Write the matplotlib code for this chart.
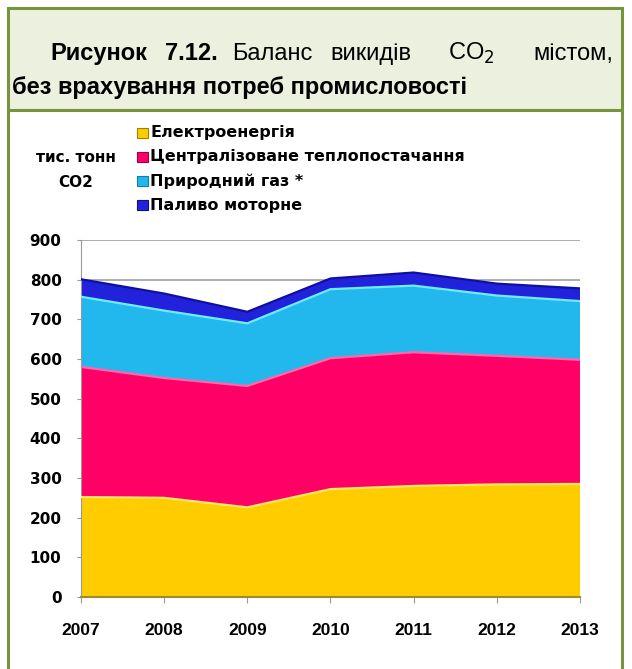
import matplotlib.pyplot as plt
from matplotlib.patches import Rectangle
import numpy as np

plt.rcParams['font.family'] = ['Liberation Sans', 'DejaVu Sans']

years = [2007, 2008, 2009, 2010, 2011, 2012, 2013]
# stacked series, thousand tonnes CO2
electricity = [252, 250, 226, 272, 280, 284, 285]
heating = [328, 302, 306, 330, 337, 324, 313]
natural_gas = [177, 170, 158, 174, 168, 152, 148]
motor_fuel = [44, 43, 29, 27, 33, 30, 32]

labels = ['Електроенергія', 'Централізоване теплопостачання',
          'Природний газ *', 'Паливо моторне']
colors = ['#FFCC00', '#FF0066', '#22B8EE', '#2222DD']
edges = ['#FFE866', '#FF66AA', '#70ECFF', '#1010A0']
sq_edges = ['#A08000', '#A00040', '#1080A0', '#101080']
yticks = [0, 100, 200, 300, 400, 500, 600, 700, 800, 900]

W, H = 632, 669
fig = plt.figure(figsize=(W / 100, H / 100), dpi=100)

def fx(x):
    return x / W

def fy(y):
    return 1 - y / H

green = '#77933C'
# header box and body frame
fig.patches.append(Rectangle((fx(8), fy(110)), fx(614), 102 / H, transform=fig.transFigure,
                             facecolor='#EBF1DE', edgecolor=green, lw=2.2, zorder=-5))
fig.patches.append(Rectangle((fx(8), fy(680)), fx(614), 570 / H, transform=fig.transFigure,
                             facecolor='white', edgecolor=green, lw=2.2, zorder=-5))

fs = 17
b1, b2 = 60, 94
fig.text(fx(50), fy(b1), 'Рисунок', fontsize=fs, fontweight='bold', va='baseline')
fig.text(fx(218), fy(b1), '7.12.', fontsize=fs, fontweight='bold', va='baseline', ha='right')
fig.text(fx(232), fy(b1), 'Баланс', fontsize=fs, va='baseline')
fig.text(fx(330), fy(b1), 'викидів', fontsize=fs, va='baseline')
fig.text(fx(448), fy(b1), 'CO$_2$', fontsize=fs, va='baseline')
fig.text(fx(613), fy(b1), 'містом,', fontsize=fs, va='baseline', ha='right')
fig.text(fx(12), fy(b2), 'без врахування потреб промисловості', fontsize=fs,
         fontweight='bold', va='baseline')

ax = fig.add_axes([fx(81), fy(597), fx(499), 357 / H])
ax.set_zorder(5)
ax.patch.set_alpha(0)
stack = np.vstack([electricity, heating, natural_gas, motor_fuel])
tops = np.cumsum(stack, axis=0)
ax.stackplot(years, stack, colors=colors, zorder=2, lw=0)
for i in range(4):
    ax.plot(years, tops[i], color=edges[i], lw=1.6, zorder=3)
ax.set_xlim(2007, 2013)
ax.set_ylim(0, 900)
ax.set_yticks(yticks)
ax.set_xticks(years)
ax.set_xticklabels([str(y) for y in years])
ax.grid(axis='y', color='#A0A0A0', lw=1.2, zorder=1)
ax.set_axisbelow(True)
for s in ['top', 'right']:
    ax.spines[s].set_visible(False)
ax.spines['left'].set_color('#999999')
ax.spines['bottom'].set_color('#A08A30')
ax.spines['bottom'].set_linewidth(1.5)
ax.tick_params(axis='y', length=3, color='#999999', pad=11)
ax.tick_params(axis='x', length=4, color='#999999', pad=15)
for lab in ax.get_yticklabels():
    lab.set_fontfamily('DejaVu Sans')
    lab.set_fontweight('bold')
    lab.set_fontsize(11)
for lab in ax.get_xticklabels():
    lab.set_fontweight('bold')
    lab.set_fontsize(12.5)

# legend
rows = [133, 157, 181, 205]
for i in range(4):
    fig.patches.append(Rectangle((fx(137), fy(rows[i] + 5)), fx(11), 10 / H,
                                 transform=fig.transFigure, facecolor=colors[i],
                                 edgecolor=sq_edges[i], lw=0.8))
    fig.text(fx(150), fy(rows[i]), labels[i], fontsize=11.5, fontweight='bold',
             va='center', family='DejaVu Sans')
fig.text(fx(76), fy(158), 'тис. тонн', fontsize=11, fontweight='bold', ha='center',
         va='center', family='DejaVu Sans')
fig.text(fx(76), fy(182), 'CO2', fontsize=11, fontweight='bold', ha='center',
         va='center', family='DejaVu Sans')

fig.savefig('out.png', dpi=100)
